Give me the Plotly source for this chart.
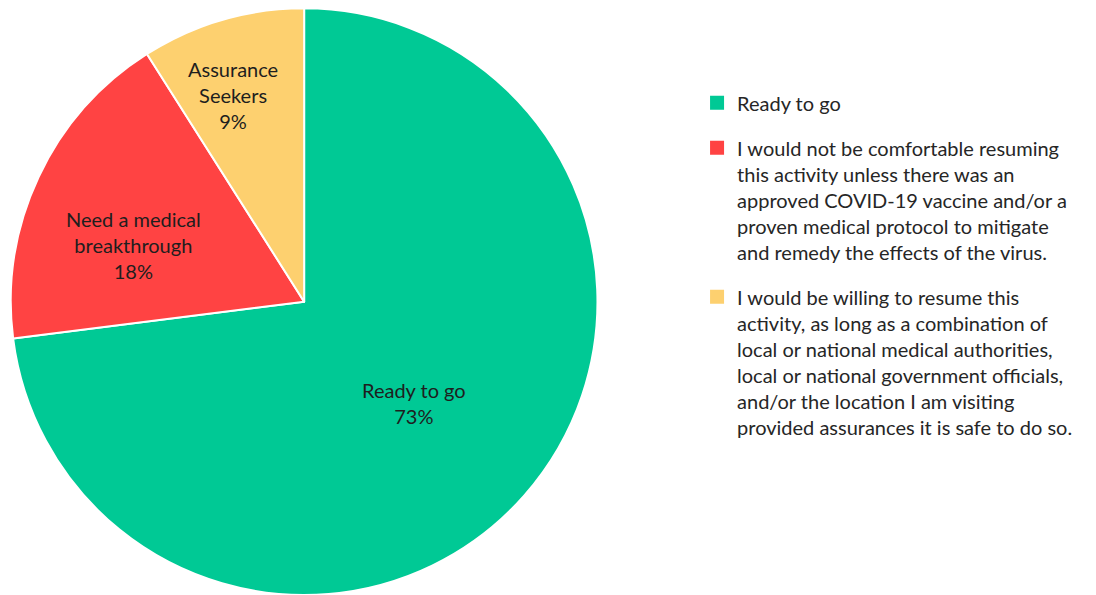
import plotly.graph_objects as go

# Survey segments, in drawing order (clockwise from 12 o'clock)
segments = ["Ready to go", "Need a medical<br>breakthrough", "Assurance<br>Seekers"]
shares = [73, 18, 9]
legend_text = [
    "Ready to go",
    "I would not be comfortable resuming<br>this activity unless there was an<br>"
    "approved COVID-19 vaccine and/or a<br>proven medical protocol to mitigate<br>"
    "and remedy the effects of the virus.",
    "I would be willing to resume this<br>activity, as long as a combination of<br>"
    "local or national medical authorities,<br>local or national government officials,<br>"
    "and/or the location I am visiting<br>provided assurances it is safe to do so.",
]
colors = ["#00C995", "#FF4343", "#FDD06F"]

# where each slice's caption sits (paper coordinates)
label_pos = [(0.3777, 0.3227), (0.1214, 0.5882), (0.2126, 0.8403)]

FONT = "Lato"

fig = go.Figure()
fig.add_trace(
    go.Pie(
        labels=segments,
        values=shares,
        textinfo="none",
        sort=False,
        direction="clockwise",
        rotation=0,
        marker=dict(colors=colors, line=dict(color="white", width=2)),
        domain=dict(x=[0.0, 0.555], y=[0.0, 0.986]),
        hoverinfo="label+percent",
        showlegend=False,
    )
)

# legend entries, one group per segment so the groups can be spaced apart
for i, (name, color) in enumerate(zip(legend_text, colors)):
    fig.add_trace(
        go.Scatter(
            x=[None],
            y=[None],
            mode="markers",
            marker=dict(symbol="square", size=14, color=color),
            name=name,
            legendgroup=f"g{i}",
            hoverinfo="skip",
        )
    )

for (x, y), seg, v in zip(label_pos, segments, shares):
    fig.add_annotation(
        x=x,
        y=y,
        xref="paper",
        yref="paper",
        text=f"{seg}<br>{v}%",
        showarrow=False,
        xanchor="center",
        yanchor="middle",
        align="center",
        font=dict(family=FONT, size=20, color="#1e1e1e"),
    )

fig.update_layout(
    width=1096,
    height=595,
    margin=dict(l=0, r=0, t=0, b=0),
    paper_bgcolor="white",
    plot_bgcolor="white",
    xaxis=dict(visible=False),
    yaxis=dict(visible=False),
    showlegend=True,
    legend=dict(
        x=0.636,
        y=0.86,
        xanchor="left",
        yanchor="top",
        valign="top",
        traceorder="grouped",
        tracegroupgap=16,
        font=dict(family=FONT, size=20, color="#262626"),
        itemwidth=30,
    ),
)

fig.write_html("out.html")
